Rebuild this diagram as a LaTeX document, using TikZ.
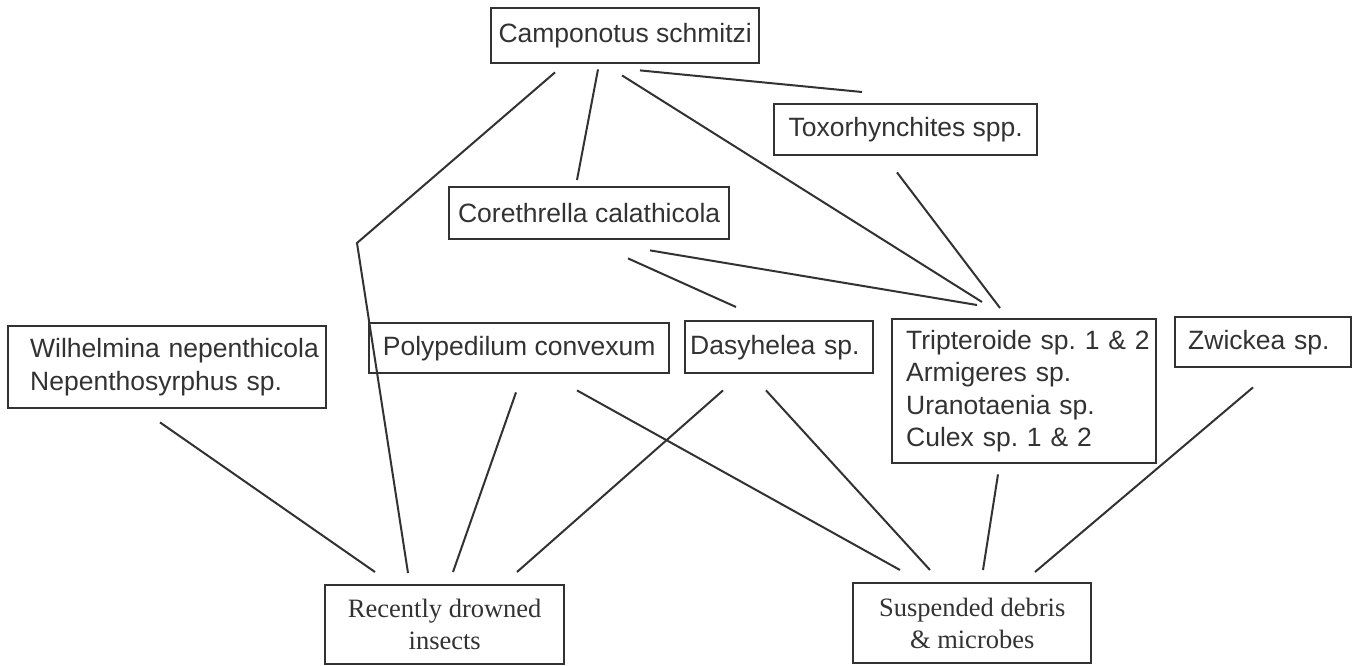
\documentclass[tikz,border=0pt]{standalone}
\usepackage{fontspec}
\setmainfont{Liberation Sans}
\newfontfamily\seriffam{Liberation Serif}
\usetikzlibrary{calc}
\definecolor{ink}{RGB}{50,50,50}
\frenchspacing
\begin{document}
\begin{tikzpicture}[x=1pt,y=-1pt,
  box/.style={draw=ink, line width=2.4pt, inner sep=0pt, anchor=north west, text=ink,
    font=\fontsize{26.5}{32.5}\selectfont\frenchspacing},
  lbox/.style={box, align=left, text width=#1},
  sbox/.style={draw=ink, line width=2.4pt, inner sep=0pt, anchor=north west, text=ink,
    align=center, font=\seriffam\fontsize{26.5}{32}\selectfont},
  link/.style={draw=ink, line width=2pt}]
\useasboundingbox (0,0) rectangle (1361,666);

% nodes
\node[box, minimum width=268pt, minimum height=55pt] (camp) at (490,7) {Camponotus schmitzi};
\node[box, minimum width=263pt, minimum height=51pt] (toxo) at (773,103) {Toxorhynchites spp.};
\node[box, minimum width=280pt, minimum height=52pt] (core) at (448,186) {Corethrella calathicola};
\node[lbox=318pt, minimum height=82pt] (wilh) at (7,325)
  {\hspace*{22pt}\mbox{Wilhelmina nepenthicola}\\\hspace*{22pt}\mbox{Nepenthosyrphus sp.}};
\node[box, minimum width=300pt, minimum height=50pt] (poly) at (368,322) {Polypedilum convexum};
\node[lbox=188pt, minimum height=52pt] (dasy) at (684,320) {\hspace*{5pt}\mbox{Dasyhelea sp.}};
\node[lbox=264pt, minimum height=144pt] (trip) at (891,318)
  {\hspace*{14pt}\mbox{Tripteroide sp. 1 \& 2}\\\hspace*{14pt}Armigeres sp.\\\hspace*{14pt}Uranotaenia sp.\\\hspace*{14pt}\mbox{Culex sp. 1 \& 2}};
\node[lbox=176pt, minimum height=50pt] (zwic) at (1174,316) {\hspace*{13pt}\mbox{Zwickea sp.}};
\node[sbox, minimum width=239pt, minimum height=79pt] (rec) at (324,584) {Recently drowned\\insects};
\node[sbox, minimum width=238pt, minimum height=80pt] (susp) at (852,582) {Suspended debris\\\& microbes};

\coordinate (bend) at (357,243);

% connectors
\draw[link] ($(camp.south west)+(65,8)$) -- (bend) -- ($(rec.north west)+(84,-11)$);
\draw[link] ($(camp.south west)+(108,5)$) -- ($(core.north west)+(129,-6)$);
\draw[link] ($(camp.south west)+(132,11)$) -- ($(trip.north west)+(91,-16)$);
\draw[link] ($(camp.south west)+(150,6)$) -- ($(toxo.north west)+(89,-11)$);
\draw[link] ($(toxo.south west)+(124,16)$) -- ($(trip.north west)+(109,-10)$);
\draw[link] ($(core.south west)+(202,10)$) -- ($(trip.north west)+(86,-13)$);
\draw[link] ($(core.south west)+(180,18)$) -- ($(dasy.north west)+(52,-13)$);
\draw[link] ($(wilh.south west)+(153,13)$) -- ($(rec.north west)+(51,-12)$);
\draw[link] ($(poly.south west)+(148,18)$) -- ($(rec.north west)+(129,-12)$);
\draw[link] ($(poly.south west)+(209,16)$) -- ($(susp.north west)+(48,-12)$);
\draw[link] ($(dasy.south west)+(39,16)$) -- ($(rec.north west)+(193,-12)$);
\draw[link] ($(dasy.south west)+(82,16)$) -- ($(susp.north west)+(78,-12)$);
\draw[link] ($(trip.south west)+(107,10)$) -- ($(susp.north west)+(131,-12)$);
\draw[link] ($(zwic.south west)+(79,19)$) -- ($(susp.north west)+(183,-10)$);
\end{tikzpicture}
\end{document}
